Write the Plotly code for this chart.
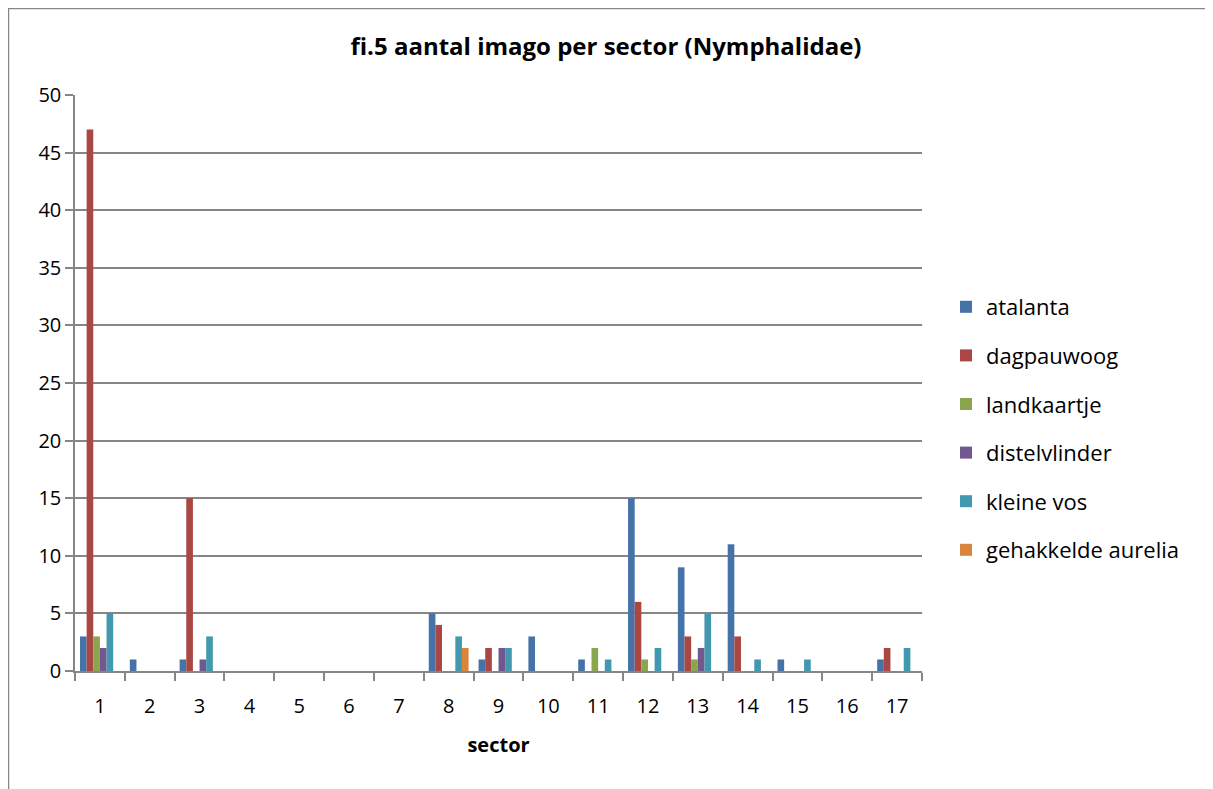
import plotly.graph_objects as go

sectors = [str(i) for i in range(1, 18)]
atalanta =           [3, 1, 1, 0, 0, 0, 0, 5, 1, 3, 1, 15, 9, 11, 1, 0, 1]
dagpauwoog =         [47, 0, 15, 0, 0, 0, 0, 4, 2, 0, 0, 6, 3, 3, 0, 0, 2]
landkaartje =        [3, 0, 0, 0, 0, 0, 0, 0, 0, 0, 2, 1, 1, 0, 0, 0, 0]
distelvlinder =      [2, 0, 1, 0, 0, 0, 0, 0, 2, 0, 0, 0, 2, 0, 0, 0, 0]
kleine_vos =         [5, 0, 3, 0, 0, 0, 0, 3, 2, 0, 1, 2, 5, 1, 1, 0, 2]
gehakkelde_aurelia = [0, 0, 0, 0, 0, 0, 0, 2, 0, 0, 0, 0, 0, 0, 0, 0, 0]

series = [
    ("atalanta", atalanta, "#4572A7"),
    ("dagpauwoog", dagpauwoog, "#AA4643"),
    ("landkaartje", landkaartje, "#89A54E"),
    ("distelvlinder", distelvlinder, "#71588F"),
    ("kleine vos", kleine_vos, "#4198AF"),
    ("gehakkelde aurelia", gehakkelde_aurelia, "#DB843D"),
]

fig = go.Figure()
for i, (name, vals, col) in enumerate(series):
    fig.add_trace(go.Bar(x=sectors, y=vals, name=name, marker_color=col,
                         marker_line_width=0, legendgroup=f"g{i}"))

# page is offset by the 8px body margin
OFF = 8
W, H = 1205, 781
L, T = 75 - OFF, 95 - OFF
R = W - (922 - OFF)
B = H - (671 - OFF)
pw, ph = W - L - R, H - T - B

def px(x):  # page pixel -> paper x
    return (x - OFF - L) / pw

def py(y):  # page pixel -> paper y
    return 1 - (y - OFF - T) / ph

FONT = "Open Sans, Lato, sans-serif"

fig.update_layout(
    width=W, height=H,
    margin=dict(l=L, r=R, t=T, b=B),
    paper_bgcolor="white", plot_bgcolor="white",
    font=dict(family=FONT, size=20, color="#000000"),
    barmode="group", bargap=0.2, bargroupgap=0,
    title=dict(text="<b>fi.5 aantal imago per sector (Nymphalidae)</b>",
               x=px(606), xref="paper", xanchor="center",
               y=1 - (47 - OFF) / H, yanchor="middle", font=dict(size=24)),
    legend=dict(x=px(946), y=py(286), xanchor="left", yanchor="top",
                tracegroupgap=17, font=dict(size=22), bgcolor="rgba(0,0,0,0)"),
    showlegend=True,
    xaxis=dict(type="category", showline=True, linecolor="#868686", linewidth=1.5,
               ticks="outside", tickson="boundaries", ticklen=8, tickcolor="#868686",
               tickwidth=1.5, showgrid=False, ticklabelstandoff=16,
               title=dict(text="<b>sector</b>", standoff=20, font=dict(size=20))),
    yaxis=dict(range=[0, 50], dtick=5, showline=True, linecolor="#868686", linewidth=1.5,
               ticks="outside", ticklen=8, tickcolor="#868686", tickwidth=1.5,
               showgrid=True, gridcolor="#868686", gridwidth=1.5, zeroline=False,
               ticklabelstandoff=0),
)

fig.add_shape(type="rect", xref="paper", yref="paper",
              x0=px(8.5), x1=px(1212), y0=py(795), y1=py(8.5),
              line=dict(color="#868686", width=1.5), fillcolor="rgba(0,0,0,0)", layer="below")

fig.write_html("out.html")
